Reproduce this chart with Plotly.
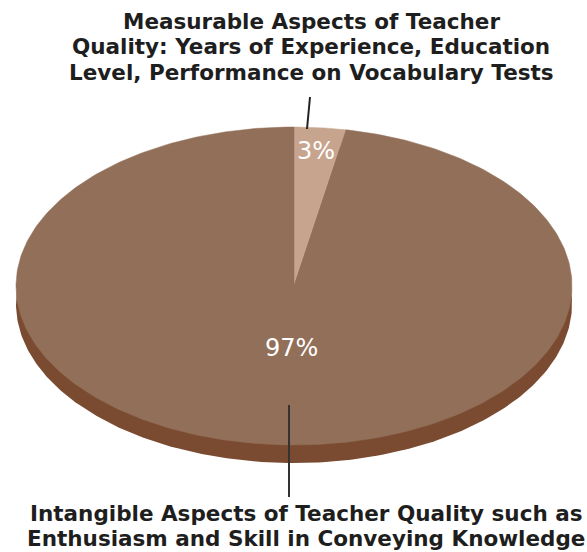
import numpy as np
import plotly.graph_objects as go

# ---- data ----
categories = [
    "Measurable Aspects of Teacher<br>Quality: Years of Experience, Education<br>Level, Performance on Vocabulary Tests",
    "Intangible Aspects of Teacher Quality such as<br>Enthusiasm and Skill in Conveying Knowledge",
]
values = [3, 97]
value_labels = ["3%", "97%"]

# ---- styling ----
slice_colors = ["#c6a48e", "#926f59"]
depth_color = "#7a4b30"
W, H = 587, 552
cx, cy = 294, 286      # pie centre (px)
a, b = 278, 159        # ellipse semi-axes (px)
depth = 18
label_r = [0.85, 0.39]

fig = go.Figure()

# side / depth of the tilted pie
t = np.linspace(0, 2 * np.pi, 400)
fig.add_trace(go.Scatter(
    x=cx + a * np.sin(t), y=cy + depth - b * np.cos(t),
    mode="lines", fill="toself", fillcolor=depth_color,
    line=dict(color=depth_color, width=0), hoverinfo="skip", showlegend=False))

total = sum(values)
start = 0.0
mids = []
for v, col in zip(values, slice_colors):
    ang = 2 * np.pi * v / total
    th = np.linspace(start, start + ang, max(20, int(400 * v / total)))
    xs = np.concatenate([[cx], cx + a * np.sin(th), [cx]])
    ys = np.concatenate([[cy], cy - b * np.cos(th), [cy]])
    fig.add_trace(go.Scatter(
        x=xs, y=ys, mode="lines", fill="toself", fillcolor=col,
        line=dict(color=col, width=0.5), hoverinfo="skip", showlegend=False))
    mids.append(start + ang / 2)
    start += ang

# percentage labels
for lab, m, r in zip(value_labels, mids, label_r):
    fig.add_annotation(x=cx + a * r * np.sin(m) + (8 if lab == "97%" else 0),
                       y=cy - b * r * np.cos(m),
                       text=lab, showarrow=False, xref="x", yref="y",
                       font=dict(family="DejaVu Sans", size=24, color="white"))

# category labels (one annotation per line for tight line spacing)
def add_block(text, xc, y0, dy):
    for i, line in enumerate(text.split("<br>")):
        fig.add_annotation(x=xc, y=y0 + i * dy, text="<b>" + line + "</b>",
                           showarrow=False, xref="x", yref="y",
                           font=dict(family="DejaVu Sans", size=21.5, color="#1e1e1e"))

add_block(categories[0], 311, 21, 25.5)
add_block(categories[1], 306, 513, 25.5)

# leader lines
fig.add_shape(type="line", x0=310, y0=97, x1=307, y1=129, xref="x", yref="y",
              line=dict(color="#222222", width=2))
fig.add_shape(type="line", x0=289, y0=405, x1=289, y1=497, xref="x", yref="y",
              line=dict(color="#333333", width=2))

fig.update_layout(
    width=W, height=H, margin=dict(l=0, r=0, t=0, b=0),
    paper_bgcolor="white", plot_bgcolor="white",
    xaxis=dict(range=[0, W], visible=False, fixedrange=True),
    yaxis=dict(range=[H, 0], visible=False, fixedrange=True),
    showlegend=False,
)

fig.write_html("out.html", config={"displayModeBar": False},
               post_script="document.body.style.margin='0';document.body.style.overflow='hidden';")
